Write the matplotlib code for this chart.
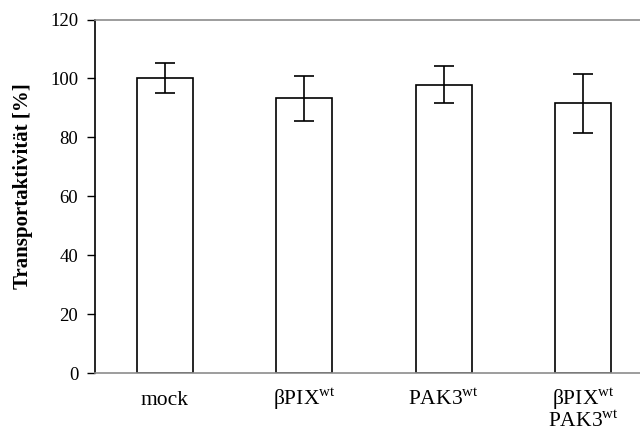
import matplotlib.pyplot as plt
import numpy as np

plt.rcParams['font.family'] = ['Liberation Serif', 'DejaVu Serif']
plt.rcParams['mathtext.fontset'] = 'custom'
plt.rcParams['mathtext.rm'] = 'Liberation Serif'

# data
labels = ['mock', r'βPIX$^{\mathrm{wt}}$', r'PAK3$^{\mathrm{wt}}$', r'βPIX$^{\mathrm{wt}}$']
second_line = ['', '', '', r'PAK3$^{\mathrm{wt}}$']
values = [100.0, 93.3, 97.9, 91.5]
errors = [5.1, 7.6, 6.2, 9.9]
yticks = [0, 20, 40, 60, 80, 100, 120]

fig = plt.figure(figsize=(6.4, 4.33), dpi=100)
# axes extends past the right edge like the cropped original
ax = fig.add_axes([95 / 640, 1 - 373 / 433, 558 / 640, (373 - 19.5) / 433])

x = np.arange(len(values))
ax.bar(x, values, width=0.4, color='white', edgecolor='black', linewidth=1.2, zorder=2)
ax.errorbar(x, values, yerr=errors, fmt='none', ecolor='black', elinewidth=1.2,
            capsize=7, capthick=1.2, zorder=3)

ax.set_xlim(-0.5, 3.5)
ax.set_ylim(0, 120)
ax.set_yticks(yticks)
ax.set_xticks(x)
ax.set_xticklabels(labels, fontsize=15.5, va='baseline')
ax.tick_params(axis='x', length=0, pad=23)
ax.tick_params(axis='y', length=6, width=1, labelsize=13.5, pad=6, direction='out')

# second line of the combined label, so all first lines share one baseline
for xi, txt in zip(x, second_line):
    if txt:
        ax.annotate(txt, xy=(xi, 0), xycoords=ax.get_xaxis_transform(),
                    xytext=(0, -38.5), textcoords='offset points',
                    ha='center', va='baseline', fontsize=15.5, annotation_clip=False)

ax.spines['left'].set_color('black')
ax.spines['left'].set_linewidth(1.2)
for s in ['top', 'bottom']:
    ax.spines[s].set_color('#8c8c8c')
    ax.spines[s].set_linewidth(1.2)
ax.spines['right'].set_visible(False)

ax.set_ylabel('Transportaktivität [%]', fontsize=15, fontweight='bold')
ax.yaxis.set_label_coords(-0.111, 0.528)

fig.savefig('out.png', dpi=100)
